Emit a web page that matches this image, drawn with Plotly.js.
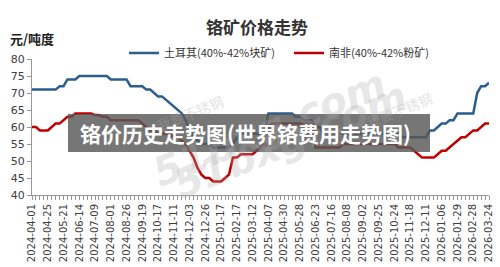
<!DOCTYPE html>
<html>
<head>
<meta charset="utf-8">
<script src="https://cdn.plot.ly/plotly-3.0.1.min.js"></script>
<style>html,body{margin:0;padding:0;background:#fff;}#chart{width:500px;height:267px;}</style>
</head>
<body>
<div id="chart"></div>
<script>
const chartTitle = "铬矿价格走势";
const unitLabel = "元/吨度";
const bannerText = "铬价历史走势图(世界铬费用走势图)";
const seriesNames = ["土耳其(40%-42%块矿)", "南非(40%-42%粉矿)"];
const tickLabels = ["2024-04-01","2024-04-25","2024-05-21","2024-06-14","2024-07-09","2024-08-01","2024-08-26","2024-09-19","2024-10-17","2024-11-11","2024-12-03","2024-12-26","2025-01-17","2025-02-17","2025-03-12","2025-04-07","2025-04-30","2025-05-28","2025-06-23","2025-07-16","2025-08-08","2025-09-02","2025-09-25","2025-10-24","2025-11-18","2025-12-11","2026-01-06","2026-01-29","2026-02-28","2026-03-24"];
const pointsPerLabel = 4;
const turkey = [
71,71,71,71,71,71,71,
72,72,
74,74,74,
75,75,75,75,75,75,75,75,
74,74,74,74,74,
72,72,72,72,
71,71,
70,69,69,68,67,66,65,64,62,59,57,56,
55,55,55,
54,54,54,54,54,
55,57,
58,58,58,58,58,58,58,
64,64,64,64,64,64,64,
63,63,
62,62,62,
60,60,
58,58,58,58,58,58,58,58,58,58,58,58,58,58,58,58,58,58,58,58,
57,57,57,57,57,57,57,
59,59,
60,
61,61,
62,62,
64,64,64,64,64,
70,
72,72,
73];
const southAfrica = [
60,60,
59,59,59,
60,
61,61,
62,
63,63,
64,64,64,64,64,
63.5,63.5,
63,63,
62,62,62,62,62,62,62,62,
61,60,
59,59,
58,58,58,58,
57,57,
56,55,53,51,48,46,45,45,
44,44,44,
45,46,51,51,
52,52,52,52,
53,54,57,60,
61,61,61,61,61,61,61,61,61,61,61,
54,
54,54,54,54,54,54,
55,55,55,55,55,55,55,55,55,55,55,55,55,55,
54,54,54,54,
53,52,
51,51,51,51,
52,53,53,54,55,56,57,57,58,59,59,60,61,61];

const xs = turkey.map((_, i) => i);
const tickVals = tickLabels.map((_, k) => k * pointsPerLabel);

const L = 32, R = 11, T = 59, B = 72, W = 500, H = 267;
const pw = W - L - R, ph = H - T - B;
const px = x => (x - L) / pw;
const py = y => (H - B - y) / ph;

const traces = [
  {x: xs, y: turkey, name: seriesNames[0], type: 'scatter', mode: 'lines',
   line: {color: '#2b5d8e', width: 2.5}},
  {x: xs, y: southAfrica, name: seriesNames[1], type: 'scatter', mode: 'lines',
   line: {color: '#c00000', width: 2.5}}
];

const layout = {
  width: W, height: H,
  margin: {l: L, r: R, t: T, b: B, pad: 0},
  paper_bgcolor: '#fff', plot_bgcolor: '#fff',
  font: {family: 'DejaVu Sans, sans-serif', color: '#404040'},
  title: {text: chartTitle, x: 257 / W, xref: 'container', xanchor: 'center',
          y: 1 - 28 / H, yref: 'container', yanchor: 'middle',
          font: {family: '"Noto Sans CJK SC", sans-serif', size: 17, color: '#333', weight: 'bold'}},
  showlegend: true,
  legend: {orientation: 'h', x: px(124), xanchor: 'left', y: py(53), yanchor: 'middle',
           font: {family: '"Noto Sans CJK SC", sans-serif', size: 11, color: '#333'},
           bgcolor: 'rgba(0,0,0,0)', itemwidth: 30, traceorder: 'normal',
           entrywidth: 120, entrywidthmode: 'pixels'},
  xaxis: {type: 'linear', range: [0, turkey.length - 1], tickmode: 'array',
          tickvals: tickVals, ticktext: tickLabels, tickangle: -90,
          tickfont: {family: 'DejaVu Sans, sans-serif', size: 10, color: '#404040'},
          ticks: 'outside', ticklen: 4, tickcolor: '#999', showline: true, linecolor: '#999',
          showgrid: false, zeroline: false, fixedrange: true,
          minor: {tickmode: 'linear', tick0: 0, dtick: 1, ticks: 'outside', ticklen: 4, tickcolor: '#999', showgrid: false}},
  yaxis: {range: [40, 80], dtick: 5, tick0: 40, ticks: 'outside', ticklen: 4, tickcolor: '#999',
          showline: true, linecolor: '#999', showgrid: false, zeroline: false,
          tickfont: {family: 'DejaVu Sans, sans-serif', size: 11, color: '#404040'}},
  shapes: [
    {type: 'rect', xref: 'paper', yref: 'paper', x0: px(68), x1: px(430), y0: py(152), y1: py(114),
     fillcolor: 'rgba(88,88,88,0.82)', line: {width: 0}, layer: 'above'}
  ],
  annotations: [
    {text: '51bxg.com', xref: 'paper', yref: 'paper', x: px(165), y: py(140), showarrow: false,
     textangle: -22, font: {family: 'DejaVu Sans, sans-serif', size: 40, color: 'rgba(170,170,170,0.3)', weight: 'bold', style: 'italic'}},
    {text: '我要不锈钢', xref: 'paper', yref: 'paper', x: px(190), y: py(88), showarrow: false,
     textangle: -22, font: {family: '"Noto Sans CJK SC", sans-serif', size: 14, color: 'rgba(170,170,170,0.35)'}},
    {text: '51bxg.com', xref: 'paper', yref: 'paper', x: px(395), y: py(128), showarrow: false,
     textangle: -22, font: {family: 'DejaVu Sans, sans-serif', size: 40, color: 'rgba(170,170,170,0.3)', weight: 'bold', style: 'italic'}},
    {text: '我要不锈钢', xref: 'paper', yref: 'paper', x: px(438), y: py(85), showarrow: false,
     textangle: -22, font: {family: '"Noto Sans CJK SC", sans-serif', size: 14, color: 'rgba(170,170,170,0.35)'}},
    {text: unitLabel, xref: 'paper', yref: 'paper', x: px(8), xanchor: 'left', y: py(38), yanchor: 'middle',
     showarrow: false, font: {family: '"Noto Sans CJK SC", sans-serif', size: 13, color: '#222', weight: 'bold'}},
    {text: bannerText, xref: 'paper', yref: 'paper', x: px(245), y: py(133), xanchor: 'center', yanchor: 'middle',
     showarrow: false, font: {family: '"Noto Sans CJK SC", sans-serif', size: 21, color: '#ffffff', weight: 'bold'}}
  ]
};

Plotly.newPlot('chart', traces, layout, {displayModeBar: false, staticPlot: true});
</script>
</body>
</html>
